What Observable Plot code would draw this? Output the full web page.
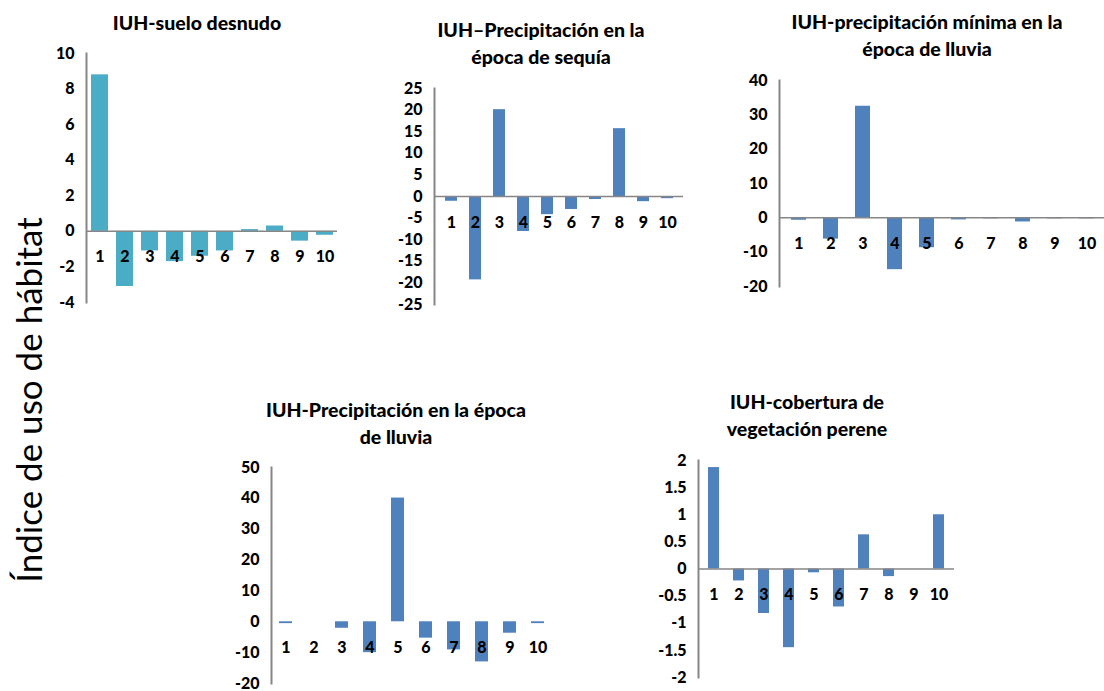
<!DOCTYPE html>
<html>
<head>
<meta charset="utf-8">
<script src="https://cdn.jsdelivr.net/npm/d3@7"></script>
<script src="https://cdn.jsdelivr.net/npm/@observablehq/plot@0.6"></script>
<style>
  html, body { margin: 0; padding: 0; background: #fff; }
  body { width: 1104px; height: 691px; position: relative; overflow: hidden; font-family: Lato, "Open Sans", sans-serif; }
  .panel { position: absolute; }
  .title { position: absolute; transform: translateX(-50%); text-align: center; white-space: nowrap;
           font: 900 19.5px/27px Lato, sans-serif; color: #000; }
  .ylabel { position: absolute; left: 28px; top: 400px; transform: translate(-50%, -50%) rotate(-90deg);
            white-space: nowrap; font: 35px Lato, sans-serif; color: #000; }
</style>
</head>
<body>
<div class="ylabel">Índice de uso de hábitat</div>
<script>
// Sites 1–10 on every panel
const categories = ["1", "2", "3", "4", "5", "6", "7", "8", "9", "10"];

// Habitat-use index (IUH) per variable
const sueloDesnudo = [8.8, -3.1, -1.1, -1.7, -1.4, -1.1, 0.1, 0.3, -0.55, -0.22];
const precipSequia = [-1.1, -19.3, 20.1, -8.1, -4.2, -3.0, -0.7, 15.7, -1.2, -0.5];
const precipMinimaLluvia = [-0.7, -6.2, 32.5, -15.1, -8.7, -0.6, -0.3, -1.2, -0.3, -0.3];
const precipLluvia = [-0.6, 0, -2.1, -10.0, 40.1, -5.3, -9.1, -13.0, -3.7, -0.6];
const coberturaPerene = [1.87, -0.22, -0.82, -1.45, -0.07, -0.70, 0.63, -0.14, 0, 1.0];

// Y-axis ticks and their labels
const ticksSuelo = [10, 8, 6, 4, 2, 0, -2, -4];
const labelsSuelo = ["10", "8", "6", "4", "2", "0", "-2", "-4"];
const ticksSequia = [25, 20, 15, 10, 5, 0, -5, -10, -15, -20, -25];
const labelsSequia = ["25", "20", "15", "10", "5", "0", "-5", "-10", "-15", "-20", "-25"];
const ticksMinima = [40, 30, 20, 10, 0, -10, -20];
const labelsMinima = ["40", "30", "20", "10", "0", "-10", "-20"];
const ticksLluvia = [50, 40, 30, 20, 10, 0, -10, -20];
const labelsLluvia = ["50", "40", "30", "20", "10", "0", "-10", "-20"];
const ticksCobertura = [2, 1.5, 1, 0.5, 0, -0.5, -1, -1.5, -2];
const labelsCobertura = ["2", "1.5", "1", "0.5", "0", "-0.5", "-1", "-1.5", "-2"];

// Titles
const titles = [
  "IUH-suelo desnudo",
  "IUH–Precipitación en la<br>época de sequía",
  "IUH-precipitación mínima en la<br>época de lluvia",
  "IUH-Precipitación en la época<br>de lluvia",
  "IUH-cobertura de<br>vegetación perene"
];

const TEAL = "#4BACC6";
const BLUE = "#4F81BD";
const AXIS = "#868686";

function panel({values, color, ticks, labels, box, pad, zeroLine = true, title, titleAt}) {
  const mL = 60, mR = 12, mT = 14, mB = 14;
  const width = box.x1 - box.x0 + mL + mR;
  const height = box.yBot - box.yTop + mT + mB;
  const data = categories.map((c, i) => ({c, v: values[i]}));
  const svg = Plot.plot({
    width, height,
    marginLeft: mL, marginRight: mR, marginTop: mT, marginBottom: mB,
    style: {fontFamily: "Lato, sans-serif", fontWeight: "900", fontSize: "16px", color: "#000", background: "transparent", overflow: "visible"},
    x: {domain: categories, paddingInner: pad, paddingOuter: pad / 2, axis: null},
    y: {domain: [ticks[ticks.length - 1], ticks[0]], axis: null},
    marks: [
      Plot.barY(data, {x: "c", y: "v", fill: color}),
      zeroLine ? Plot.ruleY([0], {stroke: AXIS, strokeWidth: 1.5}) : null,
      Plot.frame({anchor: "left", stroke: AXIS, strokeWidth: 2}),
      Plot.axisY({ticks, label: null, tickSize: 0, tickPadding: 12, fontSize: 16, fontWeight: "900",
                  tickFormat: d => labels[ticks.indexOf(d)]}),
      Plot.text(data, {x: "c", y: 0, dy: 26, text: "c", fontSize: 16, fontWeight: "900", fill: "#000"})
    ]
  });
  const div = document.createElement("div");
  div.className = "panel";
  div.style.left = (box.x0 - mL) + "px";
  div.style.top = (box.yTop - mT) + "px";
  div.style.width = width + "px";
  div.style.height = height + "px";
  div.appendChild(svg);
  document.body.appendChild(div);

  const t = document.createElement("div");
  t.className = "title";
  t.innerHTML = title;
  t.style.left = titleAt[0] + "px";
  t.style.top = titleAt[1] + "px";
  document.body.appendChild(t);
}

panel({values: sueloDesnudo, color: TEAL, ticks: ticksSuelo, labels: labelsSuelo,
       box: {x0: 86, x1: 337, yTop: 53, yBot: 302}, pad: 0.32, title: titles[0], titleAt: [197, 9]});
panel({values: precipSequia, color: BLUE, ticks: ticksSequia, labels: labelsSequia,
       box: {x0: 434, x1: 683, yTop: 88, yBot: 304}, pad: 0.5, title: titles[1], titleAt: [541, 16]});
panel({values: precipMinimaLluvia, color: BLUE, ticks: ticksMinima, labels: labelsMinima,
       box: {x0: 779, x1: 1106, yTop: 80, yBot: 286}, pad: 0.54, title: titles[2], titleAt: [927, 8]});
panel({values: precipLluvia, color: BLUE, ticks: ticksLluvia, labels: labelsLluvia, zeroLine: false,
       box: {x0: 271, x1: 551, yTop: 467, yBot: 683}, pad: 0.54, title: titles[3], titleAt: [396, 396]});
panel({values: coberturaPerene, color: BLUE, ticks: ticksCobertura, labels: labelsCobertura,
       box: {x0: 698, x1: 954, yTop: 460, yBot: 677}, pad: 0.57, title: titles[4], titleAt: [807, 388]});
</script>
</body>
</html>
